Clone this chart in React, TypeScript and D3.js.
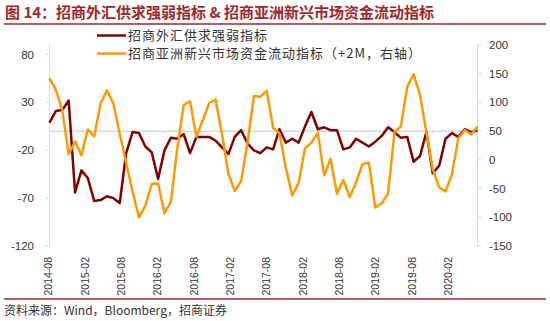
import React from "react";
import * as d3 from "d3";

const TITLE = "图 14：招商外汇供求强弱指标 & 招商亚洲新兴市场资金流动指标";
const SOURCE = "资料来源：Wind，Bloomberg，招商证券";
const seriesNames = ["招商外汇供求强弱指标", "招商亚洲新兴市场资金流动指标（+2M，右轴）"];

const months: string[] = d3
  .timeMonth.range(new Date(2014, 7, 1), new Date(2020, 3, 1))
  .map((d) => d3.timeFormat("%Y-%m")(d));

const tickLabels = [
  "2014-08", "2015-02", "2015-08", "2016-02", "2016-08", "2017-02",
  "2017-08", "2018-02", "2018-08", "2019-02", "2019-08", "2020-02",
];

const leftTicks = [-120, -70, -20, 30, 80];
const rightTicks = [-150, -100, -50, 0, 50, 100, 150, 200];

// 招商外汇供求强弱指标 (left axis)
const fxIndex = [
  9, 21, 22, 32, -64, -41, -49, -73, -72, -68, -70, -75, -23, -1, -2, -16, -22, -50,
  -20, -7, -8, -3, -23, -6, -6, -6, -10, -17, -24, -6, 1, -13, -20, -23, -17, -19,
  2, -12, -8, -12, 5, 20, 2, 4, 1, 1, -19, -17, -8, -12, -16, -11, -5, 4,
  -1, -7, -6, -32, -26, -1, -44, -36, -8, -2, -6, 2, -1, 1,
];

// 招商亚洲新兴市场资金流动指标 (+2M, right axis)
const emFlow = [
  142, 122, 86, 10, 32, 8, 53, 41, 98, 121, 98, 45, -5, -55, -100, -80, -42, -41,
  -93, -73, 20, 95, 102, 40, 69, 99, 105, 45, -24, -54, -37, 30, 111, 110, 120, 56,
  46, -14, -62, -40, 20, 30, 47, -27, 2, -59, -35, -65, -39, -7, -5, -83, -76, -59,
  48, 58, 127, 149, 113, 48, -16, -48, -55, -25, 37, 52, 44, 58,
];

const W = 550;
const H = 321;
const M = { left: 49.5, right: 477.5, top: 45, bottom: 246 };
const LABEL_RANGE: [number, number] = [48.5, 448.5];
const RED = "#a3262a";
const DARK = "#800000";
const ORANGE = "#ff9900";
const GRID = "#d9d9d9";
const TEXT = "#333333";
const LATIN = "'Liberation Sans', Arial, 'Noto Sans CJK SC', sans-serif";
const CJK = "'Noto Sans CJK SC', 'Liberation Sans', sans-serif";

export default function App() {
  const x = d3.scalePoint<string>().domain(months).range([M.left, M.right]);
  const xLabel = d3.scalePoint<string>().domain(tickLabels).range(LABEL_RANGE);
  const yL = d3.scaleLinear().domain([-120, 90]).range([M.bottom, M.top]);
  const yR = d3.scaleLinear().domain([-150, 200]).range([M.bottom, M.top]);

  const lineL = d3
    .line<number>()
    .x((_, i) => x(months[i]) as number)
    .y((d) => yL(d));
  const lineR = d3
    .line<number>()
    .x((_, i) => x(months[i]) as number)
    .y((d) => yR(d));

  const zeroY = yL(0);

  return (
    <svg
      width={W}
      height={H}
      style={{ position: "absolute", left: 0, top: 0, background: "#fff" }}
    >
      <rect width={W} height={H} fill="#fff" />
      {/* title */}
      <text x={5} y={18} fontFamily={CJK} fontWeight="bold" fontSize={15} fill={RED}>
        {TITLE}
      </text>
      <line x1={4} x2={546} y1={24} y2={24} stroke={RED} strokeWidth={1.6} />

      {/* axes */}
      <line x1={M.left} x2={M.left} y1={M.top} y2={M.bottom} stroke={GRID} strokeWidth={1} />
      <line x1={M.right} x2={M.right} y1={M.top} y2={M.bottom} stroke={GRID} strokeWidth={1} />
      {leftTicks.map((t) => (
        <g key={"l" + t}>
          <line x1={M.left - 4} x2={M.left} y1={yL(t)} y2={yL(t)} stroke={GRID} />
          <text
            x={34}
            y={yL(t)}
            dy="0.35em"
            textAnchor="end"
            fontFamily={LATIN}
            fontSize={11.5}
            fill={TEXT}
          >
            {t}
          </text>
        </g>
      ))}
      {rightTicks.map((t) => (
        <g key={"r" + t}>
          <line x1={M.right} x2={M.right + 4} y1={yR(t)} y2={yR(t)} stroke={GRID} />
          <text
            x={489}
            y={yR(t)}
            dy="0.35em"
            textAnchor="start"
            fontFamily={LATIN}
            fontSize={11.5}
            fill={TEXT}
          >
            {t}
          </text>
        </g>
      ))}

      {/* category axis at zero */}
      <line x1={M.left} x2={M.right} y1={zeroY} y2={zeroY} stroke={GRID} strokeWidth={1.5} />
      {tickLabels.map((t) => (
        <g key={"x" + t}>
          <line
            x1={x(t) as number}
            x2={x(t) as number}
            y1={zeroY}
            y2={zeroY + 3}
            stroke={GRID}
          />
          <text
            transform={`translate(${xLabel(t)},257) rotate(-90)`}
            textAnchor="end"
            dy="0.35em"
            fontFamily={LATIN}
            fontSize={10.5}
            fill={TEXT}
          >
            {t}
          </text>
        </g>
      ))}

      {/* series */}
      <path d={lineL(fxIndex) || ""} fill="none" stroke={DARK} strokeWidth={2.5} strokeLinejoin="round" />
      <path d={lineR(emFlow) || ""} fill="none" stroke={ORANGE} strokeWidth={2.5} strokeLinejoin="round" />

      {/* legend */}
      <line x1={97} x2={126} y1={35.5} y2={35.5} stroke={DARK} strokeWidth={2.5} />
      <text x={128} y={35.5} dy="0.35em" fontFamily={CJK} fontSize={13} letterSpacing={1} fill={TEXT}>
        {seriesNames[0]}
      </text>
      <line x1={97} x2={126} y1={53.5} y2={53.5} stroke={ORANGE} strokeWidth={2.5} />
      <text x={128} y={53.5} dy="0.35em" fontFamily={CJK} fontSize={13} letterSpacing={1} fill={TEXT}>
        {seriesNames[1]}
      </text>

      {/* footer */}
      <line x1={4} x2={546} y1={299} y2={299} stroke={RED} strokeWidth={1.6} />
      <text x={4} y={315} fontFamily={CJK} fontSize={12} fill={TEXT}>
        {SOURCE}
      </text>
    </svg>
  );
}
